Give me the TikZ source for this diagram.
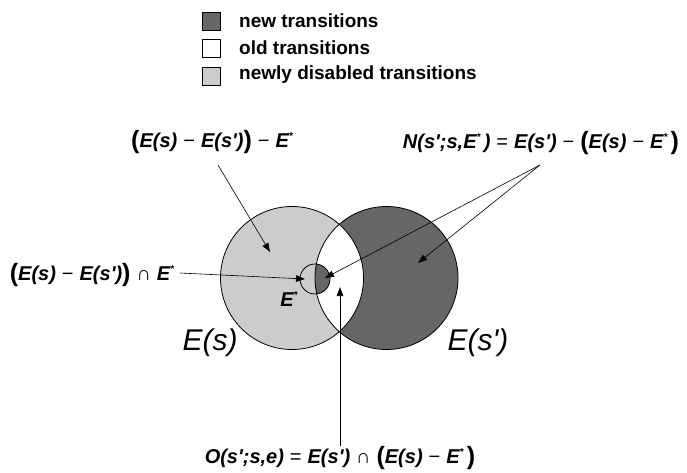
\documentclass[tikz,border=0pt]{standalone}
\usepackage{fontspec}
\setmainfont{Liberation Sans}
\usepackage{tikz}
\usetikzlibrary{arrows.meta,positioning}
\definecolor{newset}{HTML}{666666}
\definecolor{disset}{HTML}{CCCCCC}
\newcommand{\st}{\raisebox{0.38em}{\fontsize{10}{10}\selectfont*}}
\newcommand{\pr}{\textquotesingle}
\newcommand{\mn}{\hspace{0.3em}{\mdseries\upshape −}\hspace{0.3em}}
\newcommand{\ct}{\hspace{0.3em}{\mdseries\upshape ∩}\hspace{0.3em}}
\newcommand{\eq}{\hspace{0.3em}{\mdseries\upshape =}\hspace{0.3em}}
\newcommand{\bl}{\raisebox{-0.07em}{\scalebox{1.25}{\upshape (}}}
\newcommand{\br}{\raisebox{-0.07em}{\scalebox{1.25}{\upshape )}}}

\begin{document}
\begin{tikzpicture}[x=1pt, y=-1pt, >={Triangle[length=9pt,width=6.5pt]},
  outline/.style={draw=black, line width=0.8pt},
  pointer/.style={->, line width=0.6pt},
  legbox/.style={draw, line width=0.7pt, minimum size=18pt, inner sep=0pt},
  legtext/.style={font=\fontsize{19}{22}\selectfont\bfseries, inner sep=0pt, anchor=west},
  formula/.style={font=\fontsize{20}{24}\selectfont\bfseries\itshape, inner sep=1pt},
  setname/.style={font=\fontsize{30}{34}\selectfont\itshape, inner sep=0pt}]
\useasboundingbox (0,0) rectangle (687,473);

% legend
\node[legbox, fill=newset] (boxnew) at (211,21) {};
\node[legbox, fill=white, below=9pt of boxnew] (boxold) {};
\node[legbox, fill=disset, below=9pt of boxold] (boxdis) {};
\node[legtext] (txtnew) at (239,21) {new transitions};
\node[legtext] (txtold) at (239,48) {old transitions};
\node[legtext] (txtdis) at (239,75) {newly disabled transitions};

% the two sets and E*
\coordinate (cl) at (292,278);
\coordinate (cr) at (386.5,278);
\coordinate (cs) at (315,279);
\fill[disset] (cl) circle[radius=71.5];
\fill[newset] (cr) circle[radius=71.5];
\begin{scope}
  \clip (cl) circle[radius=71.5];
  \fill[white] (cr) circle[radius=71.5];
\end{scope}
\fill[disset] (cs) circle[radius=15];
\begin{scope}
  \clip (cr) circle[radius=71.5];
  \fill[newset] (cs) circle[radius=15];
\end{scope}
\draw[outline] (cl) circle[radius=71.5];
\draw[outline] (cr) circle[radius=71.5];
\draw[outline] (cs) circle[radius=15];

\node[setname] (lblEs) at (210,343) {E(s)};
\node[setname] (lblEsp) at (478,343) {E(s\pr)};
\node[formula] (lblstar) at (289,299) {E\st};

% formulas
\node[formula] (lblout) at (212,142) {\bl E(s)\mn E(s\pr)\br\mn E\st};
\node[formula] (lblnew) at (541,143) {N(s\pr;s,E\st\,)\eq E(s\pr)\mn\bl E(s)\mn E\st\,\br};
\node[formula] (lblcap) at (92,275) {\bl E(s)\mn E(s\pr)\br\ct E\st};
\node[formula] (lblold) at (340,458) {O(s\pr;s,e)\eq E(s\pr)\ct\bl E(s)\mn E\st\,\br};

% pointers
\coordinate (outfrom) at (218,165);
\coordinate (outto) at (270,252);
\coordinate (newfrom) at (540,165);
\coordinate (newto1) at (325,278);
\coordinate (newto2) at (418,263);
\coordinate (capfrom) at (180,273);
\coordinate (capto) at (305,279);
\coordinate (oldfrom) at (340,446);
\coordinate (oldto) at (340,287);
\draw[pointer] (outfrom) -- (outto);
\draw[pointer] (newfrom) -- (newto1);
\draw[pointer] (newfrom) -- (newto2);
\draw[pointer] (capfrom) -- (capto);
\draw[pointer] (oldfrom) -- (oldto);
\end{tikzpicture}
\end{document}
